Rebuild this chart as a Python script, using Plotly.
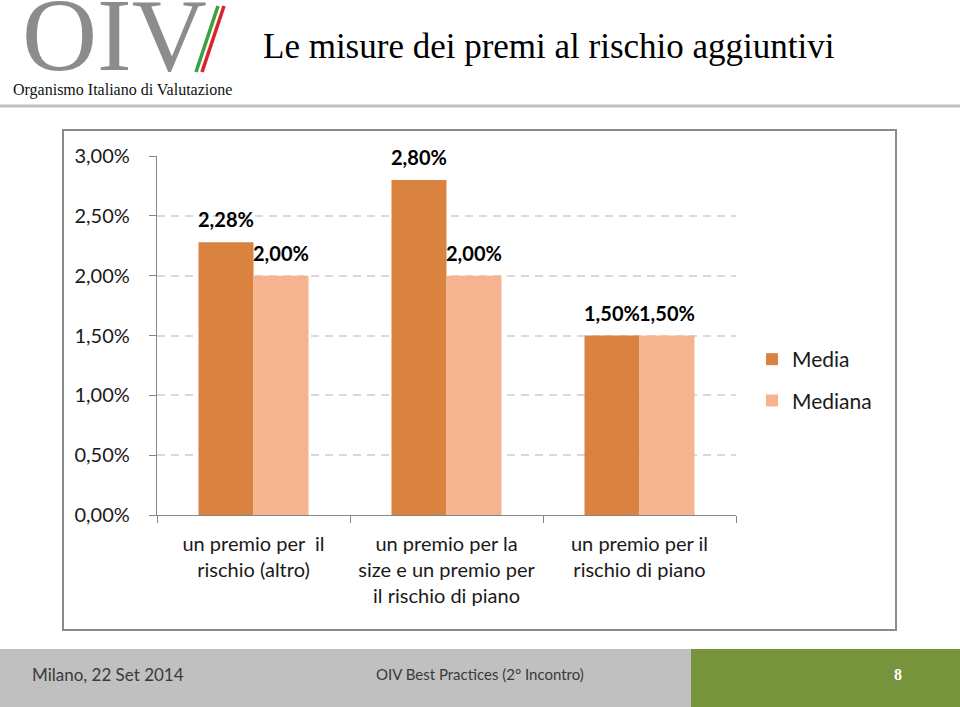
import plotly.graph_objects as go

# ---- data ----
categories = [
    "un premio per\u00a0 il<br>rischio (altro)",
    "un premio per la<br>size e un premio per<br>il rischio di piano",
    "un premio per il<br>rischio di piano",
]
media = [0.0228, 0.0280, 0.0150]
mediana = [0.0200, 0.0200, 0.0150]
series_names = ["Media", "Mediana"]
value_labels_media = ["2,28%", "2,80%", "1,50%"]
value_labels_mediana = ["2,00%", "2,00%", "1,50%"]

# ---- geometry ----
W, H = 960, 707
L, R, T, B = 157, 224, 156, 192
PW, PH = W - L - R, H - T - B


def px(x):
    return (x - L) / PW


def py(y):
    return 1 - (y - T) / PH


C_MEDIA = "#DA823F"
C_MEDIANA = "#F6B38F"
AXIS = "#868686"
TXT = "#1a1a1a"
FONT = "Lato"

fig = go.Figure()
fig.add_trace(go.Bar(name=series_names[0], x=categories, y=media,
                     marker=dict(color=C_MEDIA, line=dict(width=0)),
                     legendgroup="a"))
fig.add_trace(go.Bar(name=series_names[1], x=categories, y=mediana,
                     marker=dict(color=C_MEDIANA, line=dict(width=0)),
                     legendgroup="b"))

cat_px = PW / len(categories)
bargap = 0.43
bar_px = cat_px * (1 - bargap) / 2

annotations = []
for i, c in enumerate(categories):
    for vals, labs, sh in ((media, value_labels_media, -bar_px / 2),
                           (mediana, value_labels_mediana, bar_px / 2)):
        annotations.append(dict(x=c, y=vals[i], xref="x", yref="y",
                                text="<b>" + labs[i] + "</b>", showarrow=False,
                                xshift=sh, yshift=23, xanchor="center",
                                yanchor="middle",
                                font=dict(family=FONT, size=20, color="#000000")))

# Title and logo text
annotations += [
    dict(x=px(261), y=py(47), xref="paper", yref="paper", xanchor="left",
         yanchor="middle", showarrow=False,
         text="Le misure dei premi al rischio aggiuntivi",
         font=dict(family="Liberation Serif", size=35, color="#000000")),
    dict(x=px(20), y=py(34), xref="paper", yref="paper", xanchor="left",
         yanchor="middle", showarrow=False, text="OIV",
         font=dict(family="Liberation Serif", size=104, color="#8c8c8c")),
    dict(x=px(11), y=py(90), xref="paper", yref="paper", xanchor="left",
         yanchor="middle", showarrow=False,
         text="Organismo Italiano di Valutazione",
         font=dict(family="Liberation Serif", size=16, color="#111111")),
    # footer
    dict(x=px(30), y=py(674), xref="paper", yref="paper", xanchor="left",
         yanchor="middle", showarrow=False, text="Milano, 22 Set 2014",
         font=dict(family=FONT, size=17, color="#3a3a3a")),
    dict(x=px(480), y=py(674), xref="paper", yref="paper", xanchor="center",
         yanchor="middle", showarrow=False,
         text="OIV Best Practices (2° Incontro)",
         font=dict(family=FONT, size=15, color="#3a3a3a")),
    dict(x=px(898), y=py(674), xref="paper", yref="paper", xanchor="center",
         yanchor="middle", showarrow=False, text="<b>8</b>",
         font=dict(family="Liberation Serif", size=16, color="#ffffff")),
]

shapes = [
    # header rule
    dict(type="line", xref="paper", yref="paper", x0=px(0), x1=px(960),
         y0=py(106), y1=py(106), line=dict(color="#bfbfbf", width=3),
         layer="below"),
    # chart frame
    dict(type="rect", xref="paper", yref="paper", x0=px(63), x1=px(896),
         y0=py(130), y1=py(630), line=dict(color="#8c8c8c", width=2),
         layer="below"),
    # footer bands
    dict(type="rect", xref="paper", yref="paper", x0=px(0), x1=px(691),
         y0=py(649), y1=py(707), fillcolor="#c0c0c0", line=dict(width=0),
         layer="below"),
    dict(type="rect", xref="paper", yref="paper", x0=px(691), x1=px(960),
         y0=py(649), y1=py(707), fillcolor="#77933c", line=dict(width=0),
         layer="below"),
    # tricolour stripes of the logo
    dict(type="line", xref="paper", yref="paper", x0=px(218), x1=px(196),
         y0=py(6), y1=py(72), line=dict(color="#3aa040", width=3.5)),
    dict(type="line", xref="paper", yref="paper", x0=px(224), x1=px(202),
         y0=py(6), y1=py(72), line=dict(color="#d8232a", width=3.5)),
]

fig.update_layout(
    width=W, height=H,
    margin=dict(l=L, r=R, t=T, b=B, pad=0),
    paper_bgcolor="#ffffff", plot_bgcolor="#ffffff",
    barmode="group", bargap=bargap, bargroupgap=0,
    separators=",.",
    font=dict(family=FONT, color=TXT),
    showlegend=True,
    legend=dict(x=px(752), y=py(339), xanchor="left", yanchor="top",
                xref="paper", yref="paper",
                font=dict(family=FONT, size=21, color=TXT),
                bgcolor="rgba(0,0,0,0)", tracegroupgap=11,
                traceorder="grouped"),
    annotations=annotations,
    shapes=shapes,
    xaxis=dict(showline=True, linecolor=AXIS, linewidth=1.3,
               ticks="outside", tickson="boundaries", ticklen=7,
               tickcolor=AXIS, tickwidth=1.3, tickangle=0,
               tickfont=dict(family=FONT, size=20, color=TXT),
               ticklabelstandoff=11, showgrid=False),
    yaxis=dict(range=[0, 0.03], dtick=0.005, tickformat=".2%",
               showline=True, linecolor=AXIS, linewidth=1.3,
               ticks="outside", ticklen=7, tickcolor=AXIS, tickwidth=1.3,
               tickfont=dict(family=FONT, size=20, color=TXT),
               ticklabelstandoff=15,
               showgrid=True, gridcolor="#d9d9d9", gridwidth=1.5,
               griddash="8px,6px", zeroline=False),
)

fig.write_html("out.html",
               config={"displayModeBar": False},
               post_script="document.body.style.margin='0';"
                           "document.body.style.padding='0';")
